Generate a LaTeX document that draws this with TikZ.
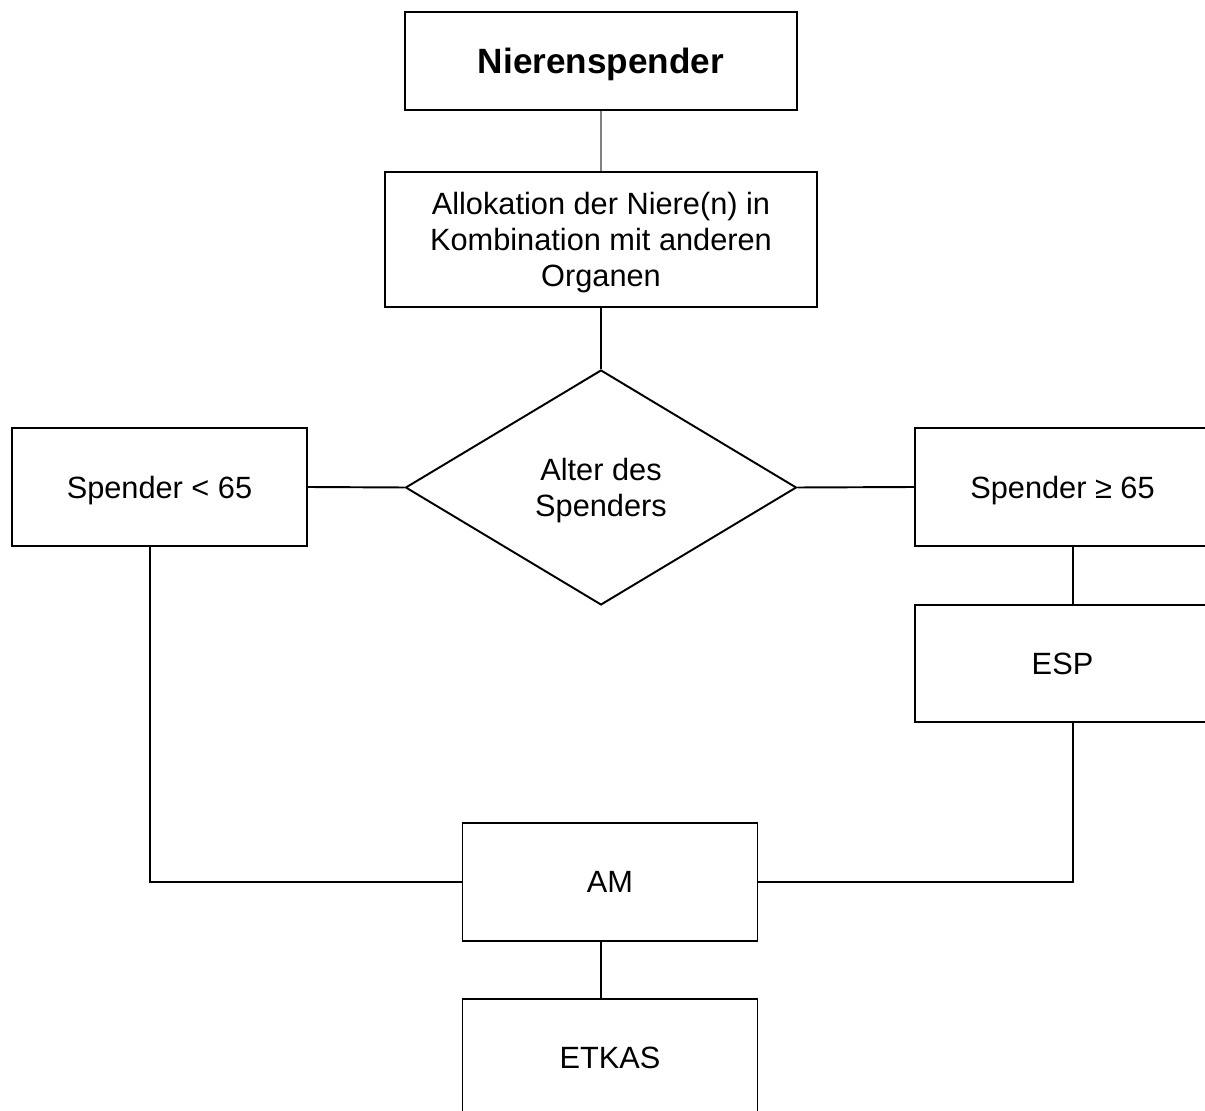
\documentclass[tikz,border=0pt]{standalone}
\usepackage{fontspec}
\setmainfont{Liberation Sans}
\usetikzlibrary{shapes.geometric}

\begin{document}
\begin{tikzpicture}[x=0.02cm,y=-0.02cm,line width=1.1pt,
        flowbox/.style={draw,inner sep=0pt,align=center,
            minimum width=5.9cm,minimum height=2.36cm,text depth=0pt,
            font=\fontsize{17.5}{20.5}\selectfont},
        decision/.style={draw,diamond,inner sep=0pt,align=center,
            minimum width=7.82cm,minimum height=4.7cm,aspect=1.66,
            text depth=0pt,font=\fontsize{17.5}{20.5}\selectfont}]
    \useasboundingbox (0,0) rectangle (1205,1111);
    \clip (0,0) rectangle (1205,1111);
    % nodes
    \node[flowbox,minimum width=7.84cm,minimum height=1.96cm,
        font=\fontsize{20}{22}\selectfont\bfseries] (donor) at (601,61) {Nierenspender};
    \node[flowbox,minimum width=8.64cm,minimum height=2.7cm] (alloc) at (601,239.5)
        {Allokation der Niere(n) in\\Kombination mit anderen\\Organen};
    \node[decision] (age) at (601,487.5) {Alter des\\Spenders};
    \node[flowbox] (young) at (159.5,487) {Spender < 65};
    \node[flowbox] (old) at (1062.5,487) {Spender ≥ 65};
    \node[flowbox,minimum height=2.34cm] (esp) at (1062.5,663.5) {ESP};
    \node[flowbox] (am) at (610,882) {AM};
    \node[flowbox] (etkas) at (610,1058) {ETKAS};
    \coordinate (lturn) at (150,882);
    \coordinate (rturn) at (1073,882);
    \coordinate (axis) at (601,0);
    % connectors
    \draw[gray,line width=0.6pt] (donor) -- (alloc);
    \draw (alloc) -- (age);
    \draw (young.east) -- (age.west);
    \draw (age.east) -- (old.west);
    \draw (old.south -| rturn) -- (esp.north -| rturn);
    \draw (young.south -| lturn) -- (lturn) -- (am.west);
    \draw (esp.south -| rturn) -- (rturn) -- (am.east);
    \draw (am.south -| axis) -- (etkas.north -| axis);
\end{tikzpicture}
\end{document}
